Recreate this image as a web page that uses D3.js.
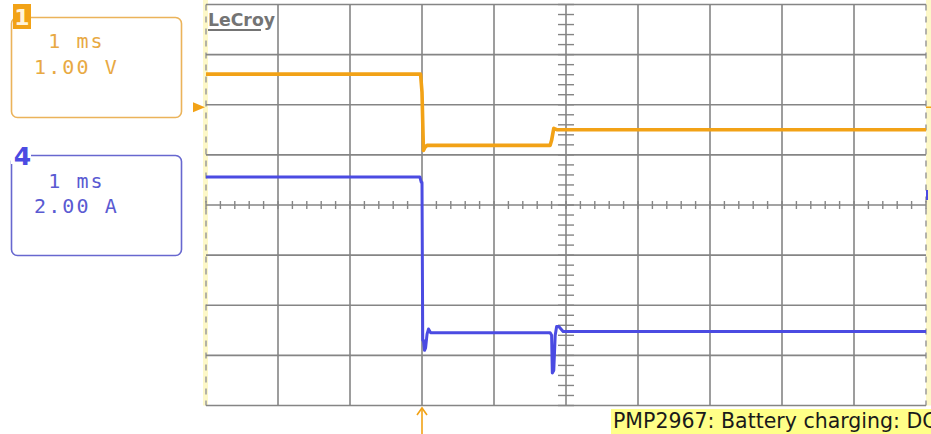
<!DOCTYPE html>
<html>
<head>
<meta charset="utf-8">
<script src="https://cdn.jsdelivr.net/npm/d3@7"></script>
<style>
  html, body { margin: 0; padding: 0; background: #fff; }
  svg { display: block; }
</style>
</head>
<body>
<svg id="scope" width="931" height="434"></svg>
<script>
// Horizontal: 10 divisions of 1 ms, trigger 3 divisions from the left edge
const timeDomain = [-3, 7];          // ms
const vertDivs = [-4, 4];            // divisions
const timeDivs = d3.range(-3, 8, 1); // major time gridlines (ms)
const levelDivs = d3.range(-4, 5, 1);

// Channel 1 — voltage, 1.00 V/div
const ch1Label = ["1 ms", "1.00 V"];
const ch1VoltsPerDiv = 1.0;
const ch1OffsetDiv = 1.95;
const ch1Time  = [-3, -0.02, 0.0, 0.02, 0.04, 0.07, 1.78, 1.80, 1.83, 1.88, 7];
const ch1Volts = [0.66, 0.66, 0.30, -0.86, -0.80, -0.76, -0.76, -0.66, -0.42, -0.45, -0.45];

// Channel 4 — current, 2.00 A/div
const ch4Label = ["1 ms", "2.00 A"];
const ch4AmpsPerDiv = 2.0;
const ch4OffsetDiv = 0;
const ch4Time = [-3, -0.03, -0.01, 0.0, 0.01, 0.02, 0.035, 0.05, 0.07, 0.09, 0.12, 1.78, 1.80, 1.81, 1.83, 1.85, 1.87, 1.90, 1.96, 7];
const ch4Amps = [1.12, 1.12, 0.9, 0.9, -5.4, -5.4, -5.8, -5.7, -5.15, -4.95, -5.1, -5.1, -5.2, -6.7, -6.6, -5.2, -4.85, -4.85, -5.05, -5.05];

const footerText = "PMP2967: Battery charging: DC";

const svg = d3.select("#scope");
const plotLeft = 206, plotRight = 926, plotTop = 4.5, plotBottom = 405.5;

const x = d3.scaleLinear().domain(timeDomain).range([plotLeft, plotRight]);
const y = d3.scaleLinear().domain(vertDivs).range([plotBottom, plotTop]);
const yCh1 = v => y(v / ch1VoltsPerDiv + ch1OffsetDiv);
const yCh4 = a => y(a / ch4AmpsPerDiv + ch4OffsetDiv);

const gridColor = "#858585";
const orange = "#f2a216";
const orangeSoft = "#ebb35a";
const blue = "#4b4be2";
const blueSoft = "#6767cf";

// Pale edge bands on either side of the screen
svg.append("rect").attr("x", plotLeft - 3).attr("y", 0).attr("width", 5).attr("height", plotBottom)
  .attr("fill", "#fdf8c8");
svg.append("rect").attr("x", plotRight).attr("y", 0).attr("width", 5).attr("height", plotBottom)
  .attr("fill", "#fdf8c8");

const grid = svg.append("g");

// Vertical gridlines (outer edges dashed)
timeDivs.forEach((t, i) => {
  const edge = i === 0 || i === timeDivs.length - 1;
  grid.append("line")
    .attr("x1", x(t)).attr("x2", x(t))
    .attr("y1", plotTop).attr("y2", plotBottom)
    .attr("stroke", edge ? "#9a9a9a" : gridColor)
    .attr("stroke-width", edge ? 1.5 : 1.6)
    .attr("stroke-dasharray", edge ? "6,6" : null);
});

// Horizontal gridlines
levelDivs.forEach(d => {
  grid.append("line")
    .attr("x1", plotLeft).attr("x2", plotRight)
    .attr("y1", y(d)).attr("y2", y(d))
    .attr("stroke", gridColor).attr("stroke-width", 1.6);
});

// Minor ticks on the centre cross
const minorT = d3.range(timeDomain[0], timeDomain[1] + 1e-9, 0.2);
minorT.forEach(t => {
  grid.append("line")
    .attr("x1", x(t)).attr("x2", x(t))
    .attr("y1", y(0) - 4).attr("y2", y(0) + 4)
    .attr("stroke", gridColor).attr("stroke-width", 1.4);
});
const minorV = d3.range(vertDivs[0], vertDivs[1] + 1e-9, 0.2);
minorV.forEach(v => {
  grid.append("line")
    .attr("x1", x(2) - 8).attr("x2", x(2) + 8)
    .attr("y1", y(v)).attr("y2", y(v))
    .attr("stroke", gridColor).attr("stroke-width", 1.4);
});

// Traces
const line1 = d3.line().x((d, i) => x(ch1Time[i])).y(d => yCh1(d));
const line4 = d3.line().x((d, i) => x(ch4Time[i])).y(d => yCh4(d));

svg.append("path").datum(ch4Amps).attr("d", line4)
  .attr("fill", "none").attr("stroke", blue).attr("stroke-width", 3)
  .attr("stroke-linejoin", "round");
svg.append("path").datum(ch1Volts).attr("d", line1)
  .attr("fill", "none").attr("stroke", orange).attr("stroke-width", 3.6)
  .attr("stroke-linejoin", "round");

// Ground marker for channel 1
const g1 = yCh1(0);
svg.append("path")
  .attr("d", `M${plotLeft - 13},${g1 - 5} L${plotLeft - 1},${g1} L${plotLeft - 13},${g1 + 5} Z`)
  .attr("fill", orange);
svg.append("line").attr("x1", plotRight).attr("x2", plotRight + 5).attr("y1", g1).attr("y2", g1)
  .attr("stroke", orange).attr("stroke-width", 1.5);
svg.append("line").attr("x1", plotRight + 1).attr("x2", plotRight + 1).attr("y1", y(0.3)).attr("y2", y(0.1))
  .attr("stroke", blue).attr("stroke-width", 2);

// Trigger position arrow
const tx = x(0);
svg.append("line").attr("x1", tx).attr("x2", tx).attr("y1", 409).attr("y2", 434)
  .attr("stroke", orange).attr("stroke-width", 1.6);
svg.append("path").attr("d", `M${tx - 5},${415} L${tx},${408} L${tx + 5},${415}`)
  .attr("fill", "none").attr("stroke", orange).attr("stroke-width", 1.6);

// LeCroy logo
svg.append("text").attr("x", 208).attr("y", 26)
  .attr("font-family", "DejaVu Sans").attr("font-weight", "bold").attr("font-size", 18)
  .attr("fill", "#747474").attr("textLength", 67).attr("lengthAdjust", "spacingAndGlyphs")
  .text("LeCroy");
svg.append("line").attr("x1", 208).attr("x2", 261).attr("y1", 30).attr("y2", 30)
  .attr("stroke", "#747474").attr("stroke-width", 2);

// Channel descriptor boxes
const monoFont = "DejaVu Sans Mono";
function channelBox(y0, stroke, textFill, lines, base1, base2) {
  svg.append("rect").attr("x", 11.5).attr("y", y0).attr("width", 170).attr("height", 100)
    .attr("rx", 6).attr("fill", "none").attr("stroke", stroke).attr("stroke-width", 1.6);
  svg.append("text").attr("x", 34).attr("y", base1)
    .attr("font-family", monoFont).attr("font-size", 20).attr("letter-spacing", 2.1)
    .attr("fill", textFill).style("white-space", "pre")
    .text(" " + lines[0]);
  svg.append("text").attr("x", 34).attr("y", base2)
    .attr("font-family", monoFont).attr("font-size", 20).attr("letter-spacing", 2.1)
    .attr("fill", textFill).style("white-space", "pre")
    .text(lines[1]);
}
channelBox(17.5, orangeSoft, "#e8a943", ch1Label, 48, 74);
channelBox(155.5, blueSoft, "#5a5ad2", ch4Label, 188, 213);

// Channel badges
svg.append("rect").attr("x", 13).attr("y", 4).attr("width", 18).attr("height", 25).attr("fill", orange);
svg.append("text").attr("x", 22).attr("y", 25).attr("text-anchor", "middle")
  .attr("font-family", "DejaVu Sans").attr("font-weight", "bold").attr("font-size", 22)
  .attr("fill", "#fff4dc").text("1");
svg.append("rect").attr("x", 11).attr("y", 146).attr("width", 20).attr("height", 18).attr("fill", "#fff");
svg.append("text").attr("x", 22.5).attr("y", 165).attr("text-anchor", "middle")
  .attr("font-family", "DejaVu Sans").attr("font-weight", "bold").attr("font-size", 25)
  .attr("fill", blue).text("4");

// Footer caption
svg.append("rect").attr("x", 611).attr("y", 409).attr("width", 320).attr("height", 25).attr("fill", "#ffff88");
svg.append("text").attr("x", 613).attr("y", 428)
  .attr("font-family", "DejaVu Sans").attr("font-size", 20.5).attr("fill", "#1a1a1a")
  .text(footerText);
</script>
</body>
</html>
